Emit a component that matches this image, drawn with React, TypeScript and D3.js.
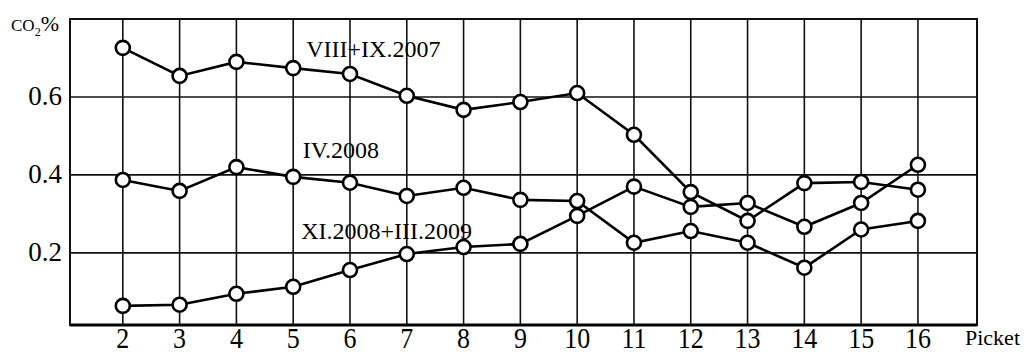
import React from "react";
import * as d3 from "d3";

const pickets = [2, 3, 4, 5, 6, 7, 8, 9, 10, 11, 12, 13, 14, 15, 16];
const yTicks = [0.2, 0.4, 0.6];

const seriesNames = ["VIII+IX.2007", "IV.2008", "XI.2008+III.2009"];
const co2_2007 = [0.726, 0.654, 0.69, 0.674, 0.659, 0.603, 0.567, 0.587, 0.61, 0.503, 0.356, 0.282, 0.379, 0.382, 0.362];
const co2_2008 = [0.387, 0.359, 0.42, 0.395, 0.38, 0.346, 0.367, 0.336, 0.333, 0.226, 0.256, 0.226, 0.162, 0.26, 0.282];
const co2_2009 = [0.064, 0.067, 0.095, 0.113, 0.156, 0.197, 0.215, 0.223, 0.295, 0.37, 0.318, 0.328, 0.267, 0.328, 0.426];

const W = 1027;
const H = 356;
const serif = "'Liberation Serif', 'DejaVu Serif', serif";

const App = () => {
  const x = d3.scaleLinear().domain([1.07, 17.04]).range([70, 977]);
  const y = d3.scaleLinear().domain([0.015, 0.8]).range([325, 19]);

  const line = d3
    .line<number>()
    .x((d, i) => x(pickets[i]))
    .y((d) => y(d));

  const allSeries = [co2_2007, co2_2008, co2_2009];
  // label anchors in data space: [picket, value]
  const labelPos: [number, number][] = [
    [5.23, 0.703],
    [5.17, 0.443],
    [5.14, 0.236],
  ];

  const [x0, x1] = x.range();
  const [yb, yt] = y.range();

  return (
    <svg
      width={W}
      height={H}
      style={{ position: "absolute", left: 0, top: 0, background: "#fff" }}
    >
      {/* grid */}
      {pickets.map((p) => (
        <line key={"v" + p} x1={x(p)} x2={x(p)} y1={yt} y2={yb} stroke="#111" strokeWidth={1.6} />
      ))}
      {yTicks.map((t) => (
        <line key={"h" + t} x1={x0} x2={x1} y1={y(t)} y2={y(t)} stroke="#111" strokeWidth={1.6} />
      ))}
      {/* frame */}
      <rect x={x0} y={yt} width={x1 - x0} height={yb - yt} fill="none" stroke="#111" strokeWidth={2} />
      <line x1={x0} x2={x1} y1={yb} y2={yb} stroke="#000" strokeWidth={3} />

      {/* series */}
      {allSeries.map((s, k) => (
        <path key={"l" + k} d={line(s) || ""} fill="none" stroke="#000" strokeWidth={2.6} />
      ))}
      {allSeries.map((s, k) =>
        s.map((v, i) => (
          <circle
            key={"c" + k + "-" + i}
            cx={x(pickets[i])}
            cy={y(v)}
            r={7}
            fill="#fff"
            stroke="#000"
            strokeWidth={2.6}
          />
        ))
      )}

      {/* series labels */}
      {seriesNames.map((n, k) => (
        <text
          key={"s" + k}
          x={x(labelPos[k][0])}
          y={y(labelPos[k][1])}
          fontFamily={serif}
          fontSize={24}
          fill="#000"
        >
          {n}
        </text>
      ))}

      {/* y tick labels */}
      {yTicks.map((t) => (
        <text
          key={"yt" + t}
          x={x0 - 8}
          y={y(t) + 8}
          textAnchor="end"
          fontFamily={serif}
          fontSize={27}
          fill="#000"
        >
          {t.toFixed(1)}
        </text>
      ))}

      {/* x tick labels */}
      {pickets.map((p) => (
        <text
          key={"xt" + p}
          transform={`translate(${x(p)},${348}) scale(1,1.15)`}
          textAnchor="middle"
          fontFamily={serif}
          fontSize={26}
          fill="#000"
        >
          {p}
        </text>
      ))}
      <text x={965} y={345} fontFamily={serif} fontSize={22} fill="#000">
        Picket
      </text>

      {/* y axis title */}
      <text x={11} y={31} fontFamily={serif} fill="#000">
        <tspan fontSize={17}>CO</tspan>
        <tspan fontSize={12} dy={5}>2</tspan>
        <tspan fontSize={22} dy={-5}>%</tspan>
      </text>
    </svg>
  );
};

export default App;
